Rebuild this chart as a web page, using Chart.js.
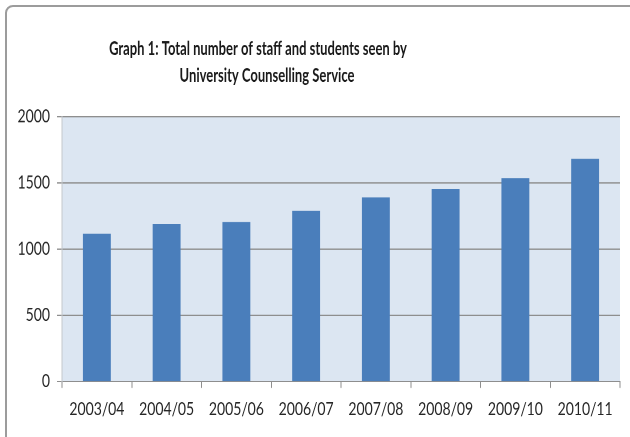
<!DOCTYPE html>
<html>
<head>
<meta charset="utf-8">
<script src="https://cdn.jsdelivr.net/npm/chart.js@4/dist/chart.umd.min.js"></script>
<style>
body{margin:0;background:#fff;overflow:hidden;}
#frame{position:absolute;left:5px;top:5px;width:700px;height:520px;border:2px solid #9c9c9c;border-radius:8px;}
#wrap{position:absolute;left:0;top:0;width:630px;height:350px;transform:scaleY(1.2486);transform-origin:0 0;}
</style>
</head>
<body>
<div id="frame"></div>
<div id="wrap"><canvas id="chart"></canvas></div>
<script>
let years = ['2003/04','2004/05','2005/06','2006/07','2007/08','2008/09','2009/10','2010/11'];
let seen = [1117, 1190, 1205, 1290, 1391, 1454, 1537, 1683];
let yTicks = [0, 500, 1000, 1500, 2000];
let titleLines = ['Graph 1: Total number of staff and students seen by', 'University Counselling Service'];

let fontName = 'Lato, "Open Sans", sans-serif';

/* light blue plot area behind the bars */
let plotBg = {
id:'plotBg',
beforeDraw(chart){
let a = chart.chartArea;
let ctx = chart.ctx;
ctx.save();
ctx.fillStyle = '#dce6f2';
ctx.fillRect(a.left, a.top, a.right - a.left, a.bottom - a.top);
ctx.restore();
}
};

/* two line title, sits a bit left of the plot centre, letters a little taller */
let titleText = {
id:'titleText',
afterDraw(chart){
let ctx = chart.ctx;
let drawLine = function(text, x, y){
ctx.save();
ctx.translate(x, y);
ctx.scale(1, 1.15);
ctx.fillText(text, 0, 0);
ctx.restore();
};
ctx.save();
ctx.font = 'bold 13px ' + fontName;
ctx.fillStyle = '#1a1a1a';
ctx.textAlign = 'center';
ctx.textBaseline = 'alphabetic';
drawLine(titleLines[0], 258, 44);
drawLine(titleLines[1], 267, 65.4);
ctx.restore();
}
};

let ctx = document.getElementById('chart').getContext('2d');

new Chart(ctx,{
type:'bar',
data:{
labels:years,
datasets:[{
label:'Staff and students seen',
data:seen,
backgroundColor:'#4a7ebb',
borderWidth:0,
barPercentage:0.4,
categoryPercentage:1
}]
},
options:{
responsive:true,
maintainAspectRatio:false,
devicePixelRatio:2,
animation:false,
layout:{padding:{left:0, right:10, top:93.6, bottom:0}},
plugins:{
legend:{display:false},
title:{display:false},
tooltip:{enabled:false}
},
scales:{
x:{
afterFit(scale){ scale.height = 44.4; },
grid:{
offset:true,
drawOnChartArea:false,
tickLength:5,
color:'#8e8e8e'
},
border:{color:'#8e8e8e', width:1},
ticks:{
color:'#262626',
padding:9,
font:{family:fontName, size:14}
}
},
y:{
min:0,
max:2000,
afterFit(scale){ scale.width = 62; },
afterBuildTicks(scale){ scale.ticks = yTicks.map(v => ({value:v})); },
grid:{
color:'#8e8e8e',
tickLength:5
},
border:{color:'#c4c8cc', width:1},
ticks:{
color:'#262626',
padding:7,
font:{family:fontName, size:14},
callback:function(value){ return String(value); }
}
}
}
},
plugins:[plotBg, titleText]
});
</script>
</body>
</html>
